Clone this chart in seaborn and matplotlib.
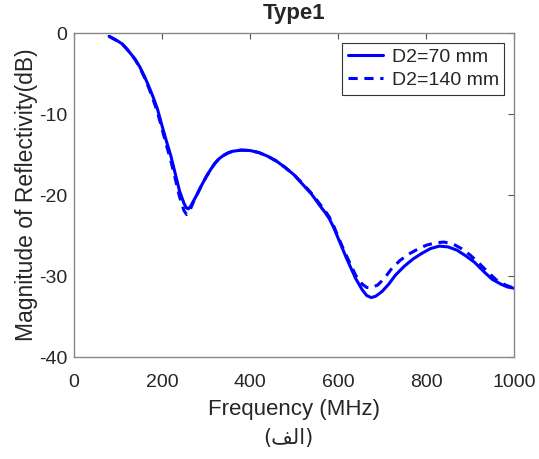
import matplotlib
matplotlib.use('Agg')
import matplotlib.pyplot as plt
import pandas as pd
import seaborn as sns

# values
freq_70 = [80, 90, 100, 110, 120, 130, 140, 150, 160, 170, 180, 190, 200, 210, 220, 230, 240,
           250, 255, 260, 265, 270, 280, 290, 300, 310, 320, 330, 340, 350, 360, 380, 400, 420, 440,
           460, 480, 500, 520, 540, 560, 570, 580, 590, 600, 610, 620, 640, 655, 665, 675, 685,
           700, 715, 730, 750, 770, 790, 810, 830, 850, 870, 890, 910, 930, 950, 970, 985, 1000]
mag_70 = [-0.4, -0.7, -1.0, -1.35, -1.95, -2.6, -3.3, -4.2, -5.3, -6.55, -7.9, -9.4, -11.4,
          -13.3, -15.1, -17.3, -19.5, -21.0, -21.55, -21.7, -21.4, -20.9, -19.9, -18.8, -17.8,
          -16.9, -16.1, -15.5, -15.1, -14.8, -14.6, -14.45, -14.5, -14.75, -15.2, -15.8, -16.6,
          -17.5, -18.7, -19.9, -21.4, -22.1, -22.9, -24.0, -25.3, -26.6, -27.9, -30.3, -31.7,
          -32.4, -32.65, -32.5, -31.9, -31.0, -29.9, -28.8, -27.9, -27.2, -26.6, -26.3, -26.4,
          -26.8, -27.5, -28.3, -29.4, -30.4, -31.0, -31.35, -31.5]

freq_140 = [80, 90, 100, 110, 120, 130, 140, 150, 160, 170, 180, 190, 200, 210, 220, 230, 240,
            250, 256, 262, 268, 275, 280, 290, 300, 310, 320, 330, 340, 350, 360, 380, 400, 420,
            440, 460, 480, 500, 520, 540, 560, 570, 580, 590, 600, 610, 620, 640, 655, 665, 675,
            690, 705, 720, 740, 760, 780, 800, 820, 840, 860, 880, 900, 920, 940, 960, 980, 1000]
mag_140 = [-0.4, -0.7, -1.0, -1.35, -1.95, -2.6, -3.35, -4.3, -5.45, -6.75, -8.2, -9.8, -11.8,
           -13.8, -15.7, -17.9, -20.2, -21.9, -22.4, -22.1, -21.3, -20.4, -19.9, -18.8, -17.8,
           -16.9, -16.1, -15.5, -15.1, -14.8, -14.6, -14.45, -14.5, -14.75, -15.2, -15.8, -16.6,
           -17.5, -18.6, -19.8, -21.2, -21.9, -22.7, -23.8, -25.1, -26.4, -27.6, -29.9, -31.0,
           -31.4, -31.45, -31.1, -30.3, -29.2, -28.1, -27.3, -26.7, -26.2, -25.9, -25.8, -26.0,
           -26.6, -27.4, -28.4, -29.5, -30.5, -31.1, -31.5]

labels = ['D2=70 mm', 'D2=140 mm']

df = pd.concat([
    pd.DataFrame({'freq': freq_70, 'mag': mag_70, 'case': labels[0]}),
    pd.DataFrame({'freq': freq_140, 'mag': mag_140, 'case': labels[1]}),
], ignore_index=True)

sns.set_style('white')
plt.rcParams['font.family'] = ['Liberation Sans', 'DejaVu Sans']
plt.rcParams['axes.unicode_minus'] = False

fig = plt.figure(figsize=(5.39, 4.59), dpi=100)
ax = fig.add_axes([0.137, 0.222, 0.817, 0.706])

sns.lineplot(ax=ax, data=df, x='freq', y='mag', style='case', color='#0000ff',
             dashes={labels[0]: '', labels[1]: (3, 2.2)}, linewidth=2.2, sort=False,
             estimator=None)

ax.set_xlim(0, 1000)
ax.set_ylim(-40, 0)
ax.set_xticks([0, 200, 400, 600, 800, 1000])
ax.set_yticks([-40, -30, -20, -10, 0])
ax.tick_params(direction='in', length=4, top=True, right=True, labelsize=14,
               color='#555555', labelcolor='#262626')
ax.tick_params(axis='x', pad=12)
ax.tick_params(axis='y', pad=4.5)
for sp in ax.spines.values():
    sp.set_color('#888888')
    sp.set_linewidth(1.0)

ax.set_xlabel('Frequency (MHz)', fontsize=16, color='#262626', labelpad=6)
ax.set_ylabel('Magnitude of Reflectivity(dB)', fontsize=16.5, color='#262626', labelpad=1)
ax.set_title('Type1', fontsize=16, fontweight='bold', pad=10)

handles, _ = ax.get_legend_handles_labels()
leg = ax.legend(handles=handles[-2:], labels=labels, loc='upper right', fontsize=14,
                frameon=True, fancybox=False, edgecolor='#333333', framealpha=1,
                borderpad=0.3, labelspacing=0.25, handlelength=1.8, handletextpad=0.45,
                borderaxespad=0.5)
leg.get_frame().set_linewidth(0.8)

# Persian sub-caption "(الف)" written in visual order with presentation forms
fig.text(0.535, 0.045, '(\ufed2\ufedf\ufe8d)', ha='center', va='center', fontsize=15,
         family=['DejaVu Sans'])

fig.savefig('out.png', dpi=100, facecolor='white')
